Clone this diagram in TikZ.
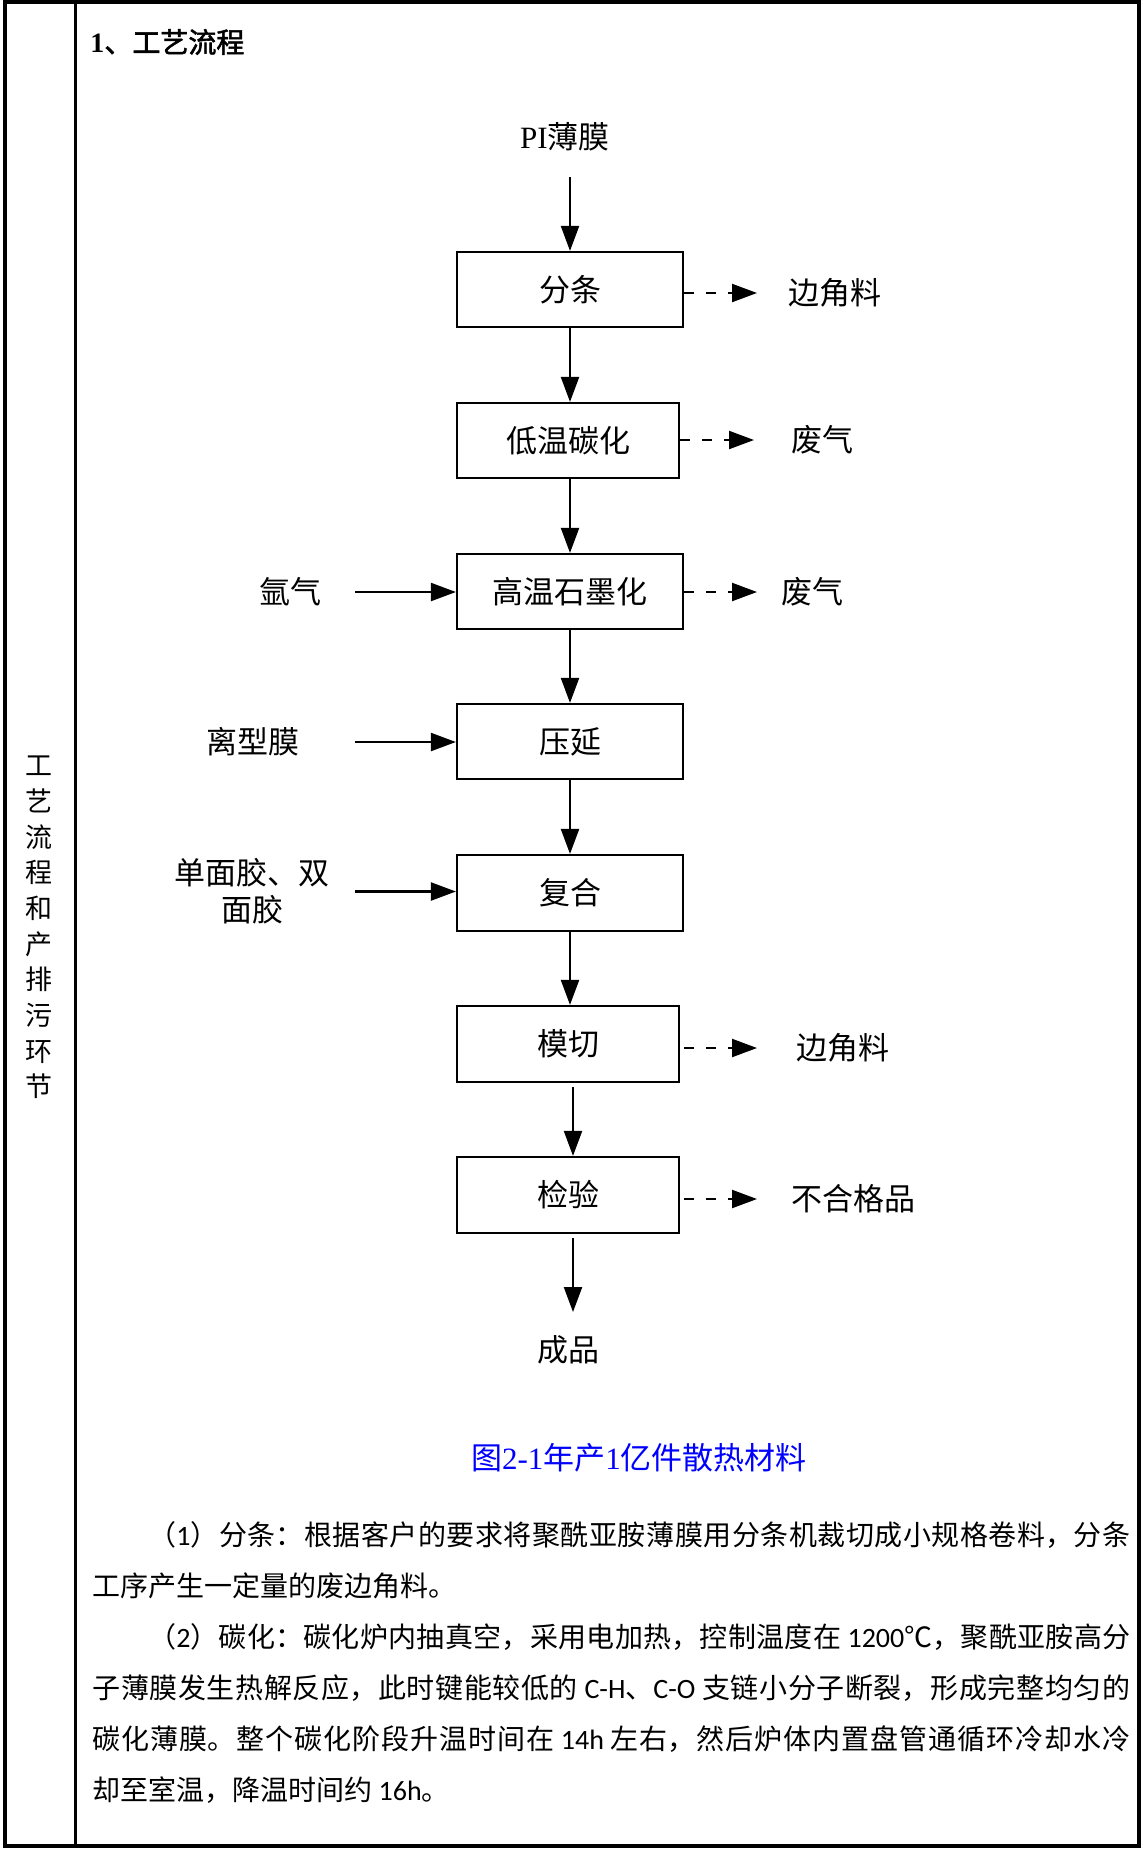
\documentclass[tikz,border=0pt]{standalone}
\usepackage{fontspec}
\setmainfont{Liberation Serif}
\newfontfamily\cjk{Noto Sans CJK SC}[AutoFakeBold=2]
\newfontfamily\calfont{Carlito}
\usetikzlibrary{arrows.meta}
\tikzset{
  boxn/.style={draw, line width=1.1pt, inner sep=0pt, minimum height=37.5pt,
    font=\cjk\fontsize{15.5}{18}\selectfont},
  lab/.style={inner sep=0pt, outer sep=0pt, font=\cjk\fontsize{15.5}{18}\selectfont},
  arr/.style={line width=1.1pt, -{Triangle[length=12.5pt,width=9pt]}},
  darr/.style={arr, dash pattern=on 5pt off 6pt},
  frame/.style={line width=1.6pt}
}
\begin{document}
\begin{tikzpicture}[x=0.5pt,y=-0.5pt]
\fill[white] (0,0) rectangle (1142,1849);
\useasboundingbox (0,0) rectangle (1142,1849);
% table frame
\draw[frame] (5,2) -- (1139,2) -- (1139,1846) -- (5,1846) -- cycle;
\draw[frame] (75.5,2) -- (75.5,1846);
% left column text
\node[inner sep=0pt, align=center, font=\cjk\fontsize{13.5}{17.85}\selectfont] (side) at (39,927.5)
  {工\\艺\\流\\程\\和\\产\\排\\污\\环\\节};
% header
\node[anchor=west, inner sep=0pt, font=\fontsize{14}{16}\selectfont\bfseries] (head) at (90,42) {1{\cjk 、工艺流程}};
% process boxes
\node[boxn, minimum width=113pt] (b1) at (570,289.5) {分条};
\node[boxn, minimum width=111pt] (b2) at (568,440.5) {低温碳化};
\node[boxn, minimum width=113pt] (b3) at (570,591.5) {高温石墨化};
\node[boxn, minimum width=113pt] (b4) at (570,741.5) {压延};
\node[boxn, minimum width=113pt, minimum height=38pt] (b5) at (570,893) {复合};
\node[boxn, minimum width=111pt, minimum height=38pt] (b6) at (568,1044) {模切};
\node[boxn, minimum width=111pt, minimum height=38pt] (b7) at (568,1195) {检验};
% input / output texts
\node[lab, minimum height=40pt] (pi) at (565,137) {{\rmfamily PI}薄膜};
\node[lab, minimum height=38pt] (cp) at (568,1350) {成品};
\node[lab, minimum width=78pt] (r1) at (835,293) {边角料};
\node[lab, minimum width=68pt] (r2) at (822,440) {废气};
\node[lab, minimum width=55pt] (r3) at (812,592) {废气};
\node[lab, minimum width=86pt] (r6) at (843,1048) {边角料};
\node[lab, minimum width=96pt] (r7) at (853,1199) {不合格品};
\node[lab, minimum width=65pt] (l3) at (290,592) {氩气};
\node[lab, minimum width=102pt] (l4) at (253,742) {离型膜};
\node[lab, minimum width=103pt, align=center, font=\cjk\fontsize{15.5}{18.5}\selectfont] (l5) at (252,891.5) {单面胶、双\\面胶};
% main flow arrows
\draw[arr] (b1.north |- pi.south) -- (b1.north);
\draw[arr] (b1.south) -- (b1.south |- b2.north);
\draw[arr] (b3.north |- b2.south) -- (b3.north);
\draw[arr] (b3.south) -- (b4.north);
\draw[arr] (b4.south) -- (b5.north);
\draw[arr] (b5.south) -- (b5.south |- b6.north);
\draw[arr] ([xshift=2.5pt,yshift=-2pt]b6.south) -- ([xshift=2.5pt]b7.north);
\draw[arr] ([xshift=2.5pt,yshift=-2pt]b7.south) -- ([xshift=2.5pt]cp.north);
% inputs
\draw[arr] (l3.east) -- (l3.east -| b3.west);
\draw[arr] (l4.east) -- (l4.east -| b4.west);
\draw[arr] (l5.east) -- (l5.east -| b5.west);
% outputs (dashed)
\draw[darr] (b1.east |- r1.west) -- (r1.west);
\draw[darr] (b2.east |- r2.west) -- (r2.west);
\draw[darr] (b3.east |- r3.west) -- (r3.west);
\draw[darr, shorten <=2pt] (b6.east |- r6.west) -- (r6.west);
\draw[darr, shorten <=2pt] (b7.east |- r7.west) -- (r7.west);
% caption
\node[inner sep=0pt, text=blue, font=\cjk\fontsize{15.5}{18}\selectfont] (cap) at (639,1458)
  {图{\rmfamily 2-1}年产{\rmfamily 1}亿件散热材料};
% body text
\node[anchor=base west, inner sep=0pt] (body) at (92,1545) {\parbox[t]{519pt}{%
\cjk\fontsize{14}{25.5}\selectfont
\XeTeXlinebreaklocale "zh"\XeTeXlinebreakskip=0pt plus 3pt\relax
\lineskiplimit=-50pt\parskip=0pt\parindent=28pt\rightskip=0pt\leftskip=0pt
（{\calfont 1}）分条：根据客户的要求将聚酰亚胺薄膜用分条机裁切成小规格卷料，分条\linebreak 工序产生一定量的废边角料。\par
（{\calfont 2}）碳化：碳化炉内抽真空，采用电加热，控制温度在 {\calfont 1200}℃，聚酰亚胺高分\linebreak 子薄膜发生热解反应，此时键能较低的 {\calfont C-H}、{\calfont C-O} 支链小分子断裂，形成完整均匀的\linebreak 碳化薄膜。整个碳化阶段升温时间在 {\calfont 14h} 左右，然后炉体内置盘管通循环冷却水冷\linebreak 却至室温，降温时间约 {\calfont 16h}。\par}};
\end{tikzpicture}
\end{document}
